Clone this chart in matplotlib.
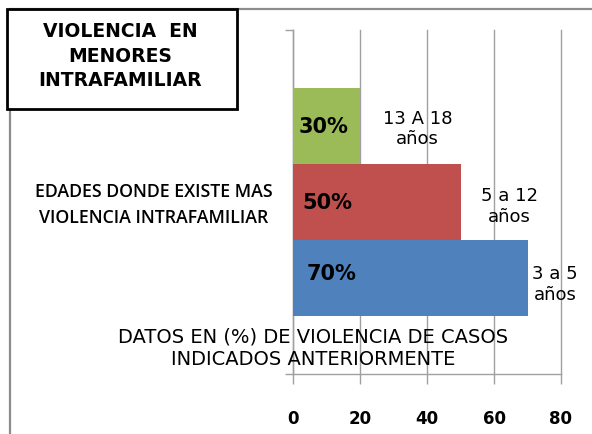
import matplotlib
matplotlib.use("Agg")
import matplotlib.pyplot as plt
from matplotlib.patches import Rectangle

# data (bottom to top)
grupos = ["3 a 5\naños", "5 a 12\naños", "13 A 18\naños"]
valores = [70, 50, 20]
etiquetas = ["70%", "50%", "30%"]
colores = ["#4F81BD", "#C0504D", "#9BBB59"]
xticks = [0, 20, 40, 60, 80]

W, H = 592, 435
fig = plt.figure(figsize=(W / 100, H / 100), dpi=100)


def fx(px):
    return px / W


def fy(py):
    return 1 - py / H


# chart area frame (partly visible)
fig.add_artist(Rectangle((fx(10), fy(440)), fx(600), 430 / H, transform=fig.transFigure,
                         fill=False, edgecolor="#8C8C8C", linewidth=1.6, zorder=0))

ax = fig.add_axes([fx(293), fy(375), fx(561) - fx(293), (375 - 31) / H])

h = 0.22
ys = [0.5 + (i - 1) * h for i in range(len(valores))]
ax.barh(ys, valores, height=h, color=colores, zorder=2)

ax.set_xlim(0, 80)
ax.set_ylim(0, 1)
ax.set_xticks(xticks)
ax.set_xticklabels([str(t) for t in xticks], fontsize=12, fontweight="bold")
ax.set_yticks([0, 1])
ax.set_yticklabels([])
ax.tick_params(axis="x", length=7, width=1, color="#A0A0A0", pad=18)
ax.tick_params(axis="y", length=6, width=1, color="#A0A0A0")
ax.grid(axis="x", color="#A0A0A0", linewidth=1, zorder=1)
for gl in ax.get_xgridlines():
    gl.set_clip_on(False)
ax.set_axisbelow(True)
for s in ["top", "right"]:
    ax.spines[s].set_visible(False)
for s in ["left", "bottom"]:
    ax.spines[s].set_color("#A0A0A0")
    ax.spines[s].set_linewidth(1)
    ax.spines[s].set_zorder(1)

# value labels inside bars
val_x = [11.6, 10.4, 9.0]
val_y = [0.294, 0.5, 0.721]
for x, y, t in zip(val_x, val_y, etiquetas):
    ax.text(x, y, t, ha="center", va="center", fontsize=15, fontweight="bold", zorder=3)

# category labels
cat_x = [78.3, 64.6, 37.1]
cat_y = [0.262, 0.49, 0.715]
for x, y, t in zip(cat_x, cat_y, grupos):
    ax.text(x, y, t, ha="center", va="center", fontsize=13, zorder=3, clip_on=False)

# title box
fig.add_artist(Rectangle((fx(7), fy(110)), fx(230), 100 / H, transform=fig.transFigure,
                         facecolor="white", edgecolor="black", linewidth=2, zorder=5))
fig.text(fx(120), fy(56), "VIOLENCIA  EN\nMENORES\nINTRAFAMILIAR", ha="center", va="center",
         fontsize=13.5, fontweight="bold", linespacing=1.35, zorder=6)

fig.text(fx(154), fy(205), "EDADES DONDE EXISTE MAS\nVIOLENCIA INTRAFAMILIAR", ha="center",
         va="center", fontsize=12.8, family="Open Sans", fontweight="semibold", linespacing=1.6)

fig.text(fx(313), fy(348), "DATOS EN (%) DE VIOLENCIA DE CASOS\nINDICADOS ANTERIORMENTE",
         ha="center", va="center", fontsize=14, linespacing=1.25, zorder=6)

fig.savefig("out.png", dpi=100)
